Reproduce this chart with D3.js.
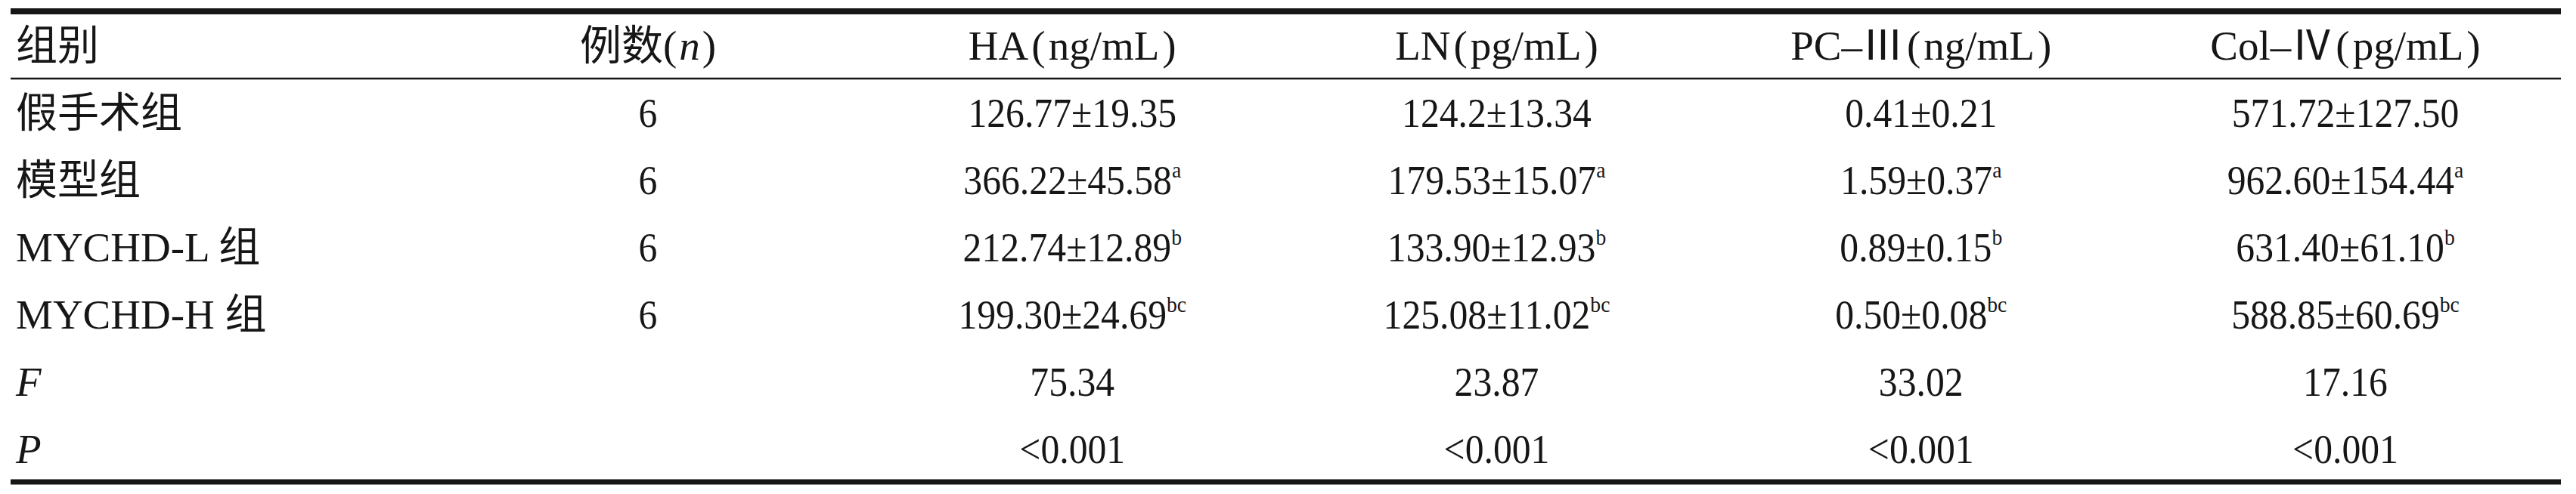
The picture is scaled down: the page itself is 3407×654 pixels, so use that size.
<!DOCTYPE html>
<html>
<head>
<meta charset="utf-8">
<script src="https://cdn.jsdelivr.net/npm/d3@7"></script>
<style>
body{margin:0;background:#fff}
</style>
</head>
<body>
<div id="chart"></div>
<script>
// table contents
var groups=["假手术组","模型组","MYCHD-L 组","MYCHD-H 组"];
var nCounts=["6","6","6","6"];
var columns=["例数","HA","LN","PC–Ⅲ","Col–Ⅳ"];
var headUnits=["","ng/mL","pg/mL","ng/mL","pg/mL"];
var haValues=["126.77±19.35","366.22±45.58","212.74±12.89","199.30±24.69"];
var lnValues=["124.2±13.34","179.53±15.07","133.90±12.93","125.08±11.02"];
var pcValues=["0.41±0.21","1.59±0.37","0.89±0.15","0.50±0.08"];
var colValues=["571.72±127.50","962.60±154.44","631.40±61.10","588.85±60.69"];
var marks=["","a","b","bc"];
var statLabels=["F","P"];
var fValues=["75.34","23.87","33.02","17.16"];
var pValues=["<0.001","<0.001","<0.001","<0.001"];

var W=3407,H=654;
var serif="'Liberation Serif','Times New Roman','Noto Sans CJK SC',serif";
var ink="#161616";

var svg=d3.select("#chart")
    .append("svg")
    .attr("width",W)
    .attr("height",H);

var rowKeys=groups.concat(statLabels);
var x=d3.scalePoint().domain(columns).range([857,3102]);
var y=d3.scalePoint().domain(rowKeys).range([168,613]);
var headY=79;
var left=21;
var squeeze=0.92;

function addRule(yPos,w) {
    svg.append("line")
        .attr("x1",14)
        .attr("x2",3387)
        .attr("y1",yPos)
        .attr("y2",yPos)
        .attr("stroke",ink)
        .attr("stroke-width",w)
}
addRule(15,8);
addRule(104,2.5);
addRule(638,7);

// header row
svg.append("text")
    .attr("x",left)
    .attr("y",headY)
    .attr("font-family",serif)
    .attr("font-size",55)
    .attr("fill",ink)
    .text("组别");

var head=svg.selectAll("text.head")
    .data(columns)
    .enter()
    .append("text")
    .attr("class","head")
    .attr("x",function (d) {
        return x(d)
    })
    .attr("y",headY)
    .attr("text-anchor","middle")
    .attr("font-family",serif)
    .attr("font-size",55)
    .attr("fill",ink);
head.each(function (d,i) {
    var t=d3.select(this);
    if(i==0){
        t.append("tspan").text("例数(");
        t.append("tspan").attr("font-style","italic").attr("dx",3).text("n");
        t.append("tspan").attr("dx",3).text(")");
    }else{
        t.append("tspan").text(d);
        t.append("tspan").attr("dx",4).text("(");
        t.append("tspan").attr("dx",4).text(headUnits[i]);
        t.append("tspan").attr("dx",4).text(")");
    }
});

// first column labels
svg.selectAll("text.label")
    .data(rowKeys)
    .enter()
    .append("text")
    .attr("class","label")
    .attr("x",left)
    .attr("y",function (d) {
        return y(d)
    })
    .attr("font-family",serif)
    .attr("font-size",55)
    .attr("font-style",function (d) {
        return statLabels.indexOf(d)>=0?"italic":"normal"
    })
    .attr("fill",ink)
    .text(function (d) {
        return d
    });

// body cells
var cells=[];
groups.forEach(function (g,i) {
    cells.push({row:g,col:columns[0],v:nCounts[i],m:""});
    cells.push({row:g,col:columns[1],v:haValues[i],m:marks[i]});
    cells.push({row:g,col:columns[2],v:lnValues[i],m:marks[i]});
    cells.push({row:g,col:columns[3],v:pcValues[i],m:marks[i]});
    cells.push({row:g,col:columns[4],v:colValues[i],m:marks[i]});
});
[fValues,pValues].forEach(function (arr,k) {
    arr.forEach(function (v,j) {
        cells.push({row:statLabels[k],col:columns[j+1],v:v,m:""});
    });
});

var cell=svg.selectAll("text.cell")
    .data(cells)
    .enter()
    .append("text")
    .attr("class","cell")
    .attr("transform",function (d) {
        return "translate("+x(d.col)+","+y(d.row)+") scale("+squeeze+",1)"
    })
    .attr("text-anchor","middle")
    .attr("font-family",serif)
    .attr("font-size",54)
    .attr("fill",ink);
cell.append("tspan")
    .text(function (d) {
        return d.v
    });
cell.filter(function (d) {
        return d.m!=""
    })
    .append("tspan")
    .attr("dy",-22)
    .attr("font-size",30)
    .text(function (d) {
        return d.m
    });
</script>
</body>
</html>
